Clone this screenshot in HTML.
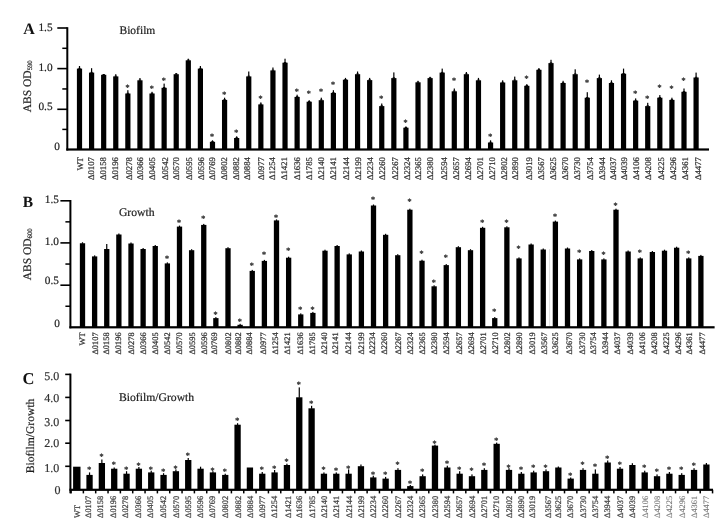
<!DOCTYPE html>
<html><head><meta charset="utf-8"><title>Biofilm and growth of deletion mutants</title>
<style>
html,body{margin:0;padding:0;background:#fff;}
body{width:726px;height:523px;overflow:hidden;}
svg{display:block;text-rendering:geometricPrecision;font-family:'Liberation Serif','DejaVu Serif',serif;}
</style></head><body>
<svg width="726" height="523" viewBox="0 0 726 523" fill="#000" style="font-family:'Liberation Serif','DejaVu Serif',serif">
<rect x="0" y="0" width="726" height="523" fill="#fff"/>
<rect x="66.3" y="27.2" width="2" height="123.3"/>
<rect x="57.3" y="27.2" width="10" height="1.6"/>
<rect x="62.3" y="47.55" width="5" height="1.5"/>
<rect x="57.3" y="67.8" width="10" height="1.6"/>
<rect x="62.3" y="88.2" width="5" height="1.5"/>
<rect x="57.3" y="108.5" width="10" height="1.6"/>
<rect x="62.3" y="128.65" width="5" height="1.5"/>
<text x="52.6" y="31.1" font-size="11.3" text-anchor="end" fill="#222" stroke="#222" stroke-width="0.2">1.5</text>
<text x="52.6" y="71" font-size="11.3" text-anchor="end" fill="#222" stroke="#222" stroke-width="0.2">1.0</text>
<text x="52.6" y="110.3" font-size="11.3" text-anchor="end" fill="#222" stroke="#222" stroke-width="0.2">0.5</text>
<text x="60" y="149.6" font-size="11.3" text-anchor="end" fill="#222" stroke="#222" stroke-width="0.2">0</text>
<rect x="66.3" y="148.4" width="642.7" height="2.2"/>
<rect x="76.9" y="68.6" width="5.2" height="80.9"/>
<rect x="78.9" y="66" width="1.2" height="3.1"/>
<rect x="78.3" y="67.9" width="2.4" height="0.9"/>
<text transform="translate(83.2,157.1) rotate(-90)" font-size="8.7" text-anchor="end" fill="#333" stroke="#333" stroke-width="0.25">WT</text>
<rect x="88.99" y="72.6" width="5.2" height="76.9"/>
<rect x="90.99" y="68.2" width="1.2" height="4.9"/>
<rect x="90.39" y="71.9" width="2.4" height="0.9"/>
<text transform="translate(94.09,157.1) rotate(-90)" font-size="8.7" text-anchor="end" fill="#333" stroke="#333" stroke-width="0.25">Δ0107</text>
<rect x="101.08" y="74.8" width="5.2" height="74.7"/>
<rect x="103.08" y="74" width="1.2" height="1.3"/>
<rect x="102.48" y="74.1" width="2.4" height="0.9"/>
<text transform="translate(106.18,157.1) rotate(-90)" font-size="8.7" text-anchor="end" fill="#333" stroke="#333" stroke-width="0.25">Δ0158</text>
<rect x="113.17" y="76.4" width="5.2" height="73.1"/>
<rect x="115.17" y="74.2" width="1.2" height="2.7"/>
<rect x="114.57" y="75.7" width="2.4" height="0.9"/>
<text transform="translate(118.07,157.1) rotate(-90)" font-size="8.7" text-anchor="end" fill="#333" stroke="#333" stroke-width="0.25">Δ0196</text>
<rect x="125.26" y="93.5" width="5.2" height="56"/>
<rect x="127.26" y="90.2" width="1.2" height="3.8"/>
<rect x="126.66" y="92.8" width="2.4" height="0.9"/>
<text x="127.46" y="90.05" font-size="8" text-anchor="middle" fill="#444" stroke="#444" stroke-width="0.45">*</text>
<text transform="translate(131.56,157.1) rotate(-90)" font-size="8.7" text-anchor="end" fill="#333" stroke="#333" stroke-width="0.25">Δ0278</text>
<rect x="137.35" y="80.3" width="5.2" height="69.2"/>
<rect x="139.35" y="78" width="1.2" height="2.8"/>
<rect x="138.75" y="79.6" width="2.4" height="0.9"/>
<text transform="translate(143.15,157.1) rotate(-90)" font-size="8.7" text-anchor="end" fill="#333" stroke="#333" stroke-width="0.25">Δ0366</text>
<rect x="149.44" y="93.5" width="5.2" height="56"/>
<rect x="151.44" y="91.8" width="1.2" height="2.2"/>
<rect x="150.84" y="92.8" width="2.4" height="0.9"/>
<text x="151.64" y="90.75" font-size="8" text-anchor="middle" fill="#444" stroke="#444" stroke-width="0.45">*</text>
<text transform="translate(154.54,157.1) rotate(-90)" font-size="8.7" text-anchor="end" fill="#333" stroke="#333" stroke-width="0.25">Δ0405</text>
<rect x="161.53" y="87.8" width="5.2" height="61.7"/>
<rect x="163.53" y="83.6" width="1.2" height="4.7"/>
<rect x="162.93" y="87.1" width="2.4" height="0.9"/>
<text x="163.73" y="83.45" font-size="8" text-anchor="middle" fill="#444" stroke="#444" stroke-width="0.45">*</text>
<text transform="translate(168.23,157.1) rotate(-90)" font-size="8.7" text-anchor="end" fill="#333" stroke="#333" stroke-width="0.25">Δ0542</text>
<rect x="173.62" y="74.2" width="5.2" height="75.3"/>
<rect x="175.62" y="73" width="1.2" height="1.7"/>
<rect x="175.02" y="73.5" width="2.4" height="0.9"/>
<text transform="translate(179.42,157.1) rotate(-90)" font-size="8.7" text-anchor="end" fill="#333" stroke="#333" stroke-width="0.25">Δ0570</text>
<rect x="185.71" y="60.3" width="5.2" height="89.2"/>
<rect x="187.71" y="58.7" width="1.2" height="2.1"/>
<rect x="187.11" y="59.6" width="2.4" height="0.9"/>
<text transform="translate(192.21,157.1) rotate(-90)" font-size="8.7" text-anchor="end" fill="#333" stroke="#333" stroke-width="0.25">Δ0595</text>
<rect x="197.8" y="68.6" width="5.2" height="80.9"/>
<rect x="199.8" y="66" width="1.2" height="3.1"/>
<rect x="199.2" y="67.9" width="2.4" height="0.9"/>
<text transform="translate(203.6,157.1) rotate(-90)" font-size="8.7" text-anchor="end" fill="#333" stroke="#333" stroke-width="0.25">Δ0596</text>
<rect x="209.89" y="141.8" width="5.2" height="7.7"/>
<rect x="211.89" y="140.3" width="1.2" height="2"/>
<rect x="211.29" y="141.1" width="2.4" height="0.9"/>
<text x="212.09" y="138.95" font-size="8" text-anchor="middle" fill="#444" stroke="#444" stroke-width="0.45">*</text>
<text transform="translate(215.19,157.1) rotate(-90)" font-size="8.7" text-anchor="end" fill="#333" stroke="#333" stroke-width="0.25">Δ0769</text>
<rect x="221.98" y="99.9" width="5.2" height="49.6"/>
<rect x="223.98" y="97.7" width="1.2" height="2.7"/>
<rect x="223.38" y="99.2" width="2.4" height="0.9"/>
<text x="224.18" y="96.65" font-size="8" text-anchor="middle" fill="#444" stroke="#444" stroke-width="0.45">*</text>
<text transform="translate(226.68,157.1) rotate(-90)" font-size="8.7" text-anchor="end" fill="#333" stroke="#333" stroke-width="0.25">Δ0802</text>
<rect x="234.07" y="138" width="5.2" height="11.5"/>
<rect x="236.07" y="136.3" width="1.2" height="2.2"/>
<rect x="235.47" y="137.3" width="2.4" height="0.9"/>
<text x="236.27" y="135.25" font-size="8" text-anchor="middle" fill="#444" stroke="#444" stroke-width="0.45">*</text>
<text transform="translate(238.77,157.1) rotate(-90)" font-size="8.7" text-anchor="end" fill="#333" stroke="#333" stroke-width="0.25">Δ0882</text>
<rect x="246.16" y="76.4" width="5.2" height="73.1"/>
<rect x="248.16" y="71.5" width="1.2" height="5.4"/>
<rect x="247.56" y="75.7" width="2.4" height="0.9"/>
<text transform="translate(250.16,157.1) rotate(-90)" font-size="8.7" text-anchor="end" fill="#333" stroke="#333" stroke-width="0.25">Δ0884</text>
<rect x="258.25" y="104.4" width="5.2" height="45.1"/>
<rect x="260.25" y="102.4" width="1.2" height="2.5"/>
<rect x="259.65" y="103.7" width="2.4" height="0.9"/>
<text x="260.45" y="101.05" font-size="8" text-anchor="middle" fill="#444" stroke="#444" stroke-width="0.45">*</text>
<text transform="translate(264.05,157.1) rotate(-90)" font-size="8.7" text-anchor="end" fill="#333" stroke="#333" stroke-width="0.25">Δ0977</text>
<rect x="270.34" y="70.4" width="5.2" height="79.1"/>
<rect x="272.34" y="67.5" width="1.2" height="3.4"/>
<rect x="271.74" y="69.7" width="2.4" height="0.9"/>
<text transform="translate(275.04,157.1) rotate(-90)" font-size="8.7" text-anchor="end" fill="#333" stroke="#333" stroke-width="0.25">Δ1254</text>
<rect x="282.43" y="62.7" width="5.2" height="86.8"/>
<rect x="284.43" y="58.7" width="1.2" height="4.5"/>
<rect x="283.83" y="62" width="2.4" height="0.9"/>
<text transform="translate(287.33,157.1) rotate(-90)" font-size="8.7" text-anchor="end" fill="#333" stroke="#333" stroke-width="0.25">Δ1421</text>
<rect x="294.52" y="96.9" width="5.2" height="52.6"/>
<rect x="296.52" y="94.7" width="1.2" height="2.7"/>
<rect x="295.92" y="96.2" width="2.4" height="0.9"/>
<text x="296.72" y="94.45" font-size="8" text-anchor="middle" fill="#444" stroke="#444" stroke-width="0.45">*</text>
<text transform="translate(299.62,157.1) rotate(-90)" font-size="8.7" text-anchor="end" fill="#333" stroke="#333" stroke-width="0.25">Δ1636</text>
<rect x="306.61" y="101.7" width="5.2" height="47.8"/>
<rect x="308.61" y="100.2" width="1.2" height="2"/>
<rect x="308.01" y="101" width="2.4" height="0.9"/>
<text x="308.81" y="96.25" font-size="8" text-anchor="middle" fill="#444" stroke="#444" stroke-width="0.45">*</text>
<text transform="translate(311.71,157.1) rotate(-90)" font-size="8.7" text-anchor="end" fill="#333" stroke="#333" stroke-width="0.25">Δ1785</text>
<rect x="318.7" y="100.2" width="5.2" height="49.3"/>
<rect x="320.7" y="97.7" width="1.2" height="3"/>
<rect x="320.1" y="99.5" width="2.4" height="0.9"/>
<text x="320.9" y="94.45" font-size="8" text-anchor="middle" fill="#444" stroke="#444" stroke-width="0.45">*</text>
<text transform="translate(324,157.1) rotate(-90)" font-size="8.7" text-anchor="end" fill="#333" stroke="#333" stroke-width="0.25">Δ2140</text>
<rect x="330.79" y="92.9" width="5.2" height="56.6"/>
<rect x="332.79" y="90.2" width="1.2" height="3.2"/>
<rect x="332.19" y="92.2" width="2.4" height="0.9"/>
<text x="332.99" y="87.35" font-size="8" text-anchor="middle" fill="#444" stroke="#444" stroke-width="0.45">*</text>
<text transform="translate(335.89,157.1) rotate(-90)" font-size="8.7" text-anchor="end" fill="#333" stroke="#333" stroke-width="0.25">Δ2141</text>
<rect x="342.88" y="79.7" width="5.2" height="69.8"/>
<rect x="344.88" y="77.9" width="1.2" height="2.3"/>
<rect x="344.28" y="79" width="2.4" height="0.9"/>
<text transform="translate(348.68,157.1) rotate(-90)" font-size="8.7" text-anchor="end" fill="#333" stroke="#333" stroke-width="0.25">Δ2144</text>
<rect x="354.97" y="74.2" width="5.2" height="75.3"/>
<rect x="356.97" y="71.5" width="1.2" height="3.2"/>
<rect x="356.37" y="73.5" width="2.4" height="0.9"/>
<text transform="translate(361.27,157.1) rotate(-90)" font-size="8.7" text-anchor="end" fill="#333" stroke="#333" stroke-width="0.25">Δ2199</text>
<rect x="367.06" y="80.1" width="5.2" height="69.4"/>
<rect x="369.06" y="77.9" width="1.2" height="2.7"/>
<rect x="368.46" y="79.4" width="2.4" height="0.9"/>
<text transform="translate(373.06,157.1) rotate(-90)" font-size="8.7" text-anchor="end" fill="#333" stroke="#333" stroke-width="0.25">Δ2234</text>
<rect x="379.15" y="106.1" width="5.2" height="43.4"/>
<rect x="381.15" y="103.5" width="1.2" height="3.1"/>
<rect x="380.55" y="105.4" width="2.4" height="0.9"/>
<text x="381.35" y="101.05" font-size="8" text-anchor="middle" fill="#444" stroke="#444" stroke-width="0.45">*</text>
<text transform="translate(384.95,157.1) rotate(-90)" font-size="8.7" text-anchor="end" fill="#333" stroke="#333" stroke-width="0.25">Δ2260</text>
<rect x="391.24" y="78.1" width="5.2" height="71.4"/>
<rect x="393.24" y="72.4" width="1.2" height="6.2"/>
<rect x="392.64" y="77.4" width="2.4" height="0.9"/>
<text transform="translate(398.14,157.1) rotate(-90)" font-size="8.7" text-anchor="end" fill="#333" stroke="#333" stroke-width="0.25">Δ2267</text>
<rect x="403.33" y="127.7" width="5.2" height="21.8"/>
<rect x="405.33" y="126.4" width="1.2" height="1.8"/>
<rect x="404.73" y="127" width="2.4" height="0.9"/>
<text x="405.53" y="124.85" font-size="8" text-anchor="middle" fill="#444" stroke="#444" stroke-width="0.45">*</text>
<text transform="translate(409.83,157.1) rotate(-90)" font-size="8.7" text-anchor="end" fill="#333" stroke="#333" stroke-width="0.25">Δ2324</text>
<rect x="415.42" y="82.3" width="5.2" height="67.2"/>
<rect x="417.42" y="80.8" width="1.2" height="2"/>
<rect x="416.82" y="81.6" width="2.4" height="0.9"/>
<text transform="translate(421.22,157.1) rotate(-90)" font-size="8.7" text-anchor="end" fill="#333" stroke="#333" stroke-width="0.25">Δ2365</text>
<rect x="427.51" y="78.1" width="5.2" height="71.4"/>
<rect x="429.51" y="76.8" width="1.2" height="1.8"/>
<rect x="428.91" y="77.4" width="2.4" height="0.9"/>
<text transform="translate(432.81,157.1) rotate(-90)" font-size="8.7" text-anchor="end" fill="#333" stroke="#333" stroke-width="0.25">Δ2380</text>
<rect x="439.6" y="72.6" width="5.2" height="76.9"/>
<rect x="441.6" y="68.6" width="1.2" height="4.5"/>
<rect x="441" y="71.9" width="2.4" height="0.9"/>
<text transform="translate(446.5,157.1) rotate(-90)" font-size="8.7" text-anchor="end" fill="#333" stroke="#333" stroke-width="0.25">Δ2594</text>
<rect x="451.69" y="91.3" width="5.2" height="58.2"/>
<rect x="453.69" y="88.5" width="1.2" height="3.3"/>
<rect x="453.09" y="90.6" width="2.4" height="0.9"/>
<text x="453.89" y="83.45" font-size="8" text-anchor="middle" fill="#444" stroke="#444" stroke-width="0.45">*</text>
<text transform="translate(458.59,157.1) rotate(-90)" font-size="8.7" text-anchor="end" fill="#333" stroke="#333" stroke-width="0.25">Δ2657</text>
<rect x="463.78" y="74.2" width="5.2" height="75.3"/>
<rect x="465.78" y="72" width="1.2" height="2.7"/>
<rect x="465.18" y="73.5" width="2.4" height="0.9"/>
<text transform="translate(470.68,157.1) rotate(-90)" font-size="8.7" text-anchor="end" fill="#333" stroke="#333" stroke-width="0.25">Δ2694</text>
<rect x="475.87" y="80.3" width="5.2" height="69.2"/>
<rect x="477.87" y="77.9" width="1.2" height="2.9"/>
<rect x="477.27" y="79.6" width="2.4" height="0.9"/>
<text transform="translate(482.77,157.1) rotate(-90)" font-size="8.7" text-anchor="end" fill="#333" stroke="#333" stroke-width="0.25">Δ2701</text>
<rect x="487.96" y="142.5" width="5.2" height="7"/>
<rect x="489.96" y="140.3" width="1.2" height="2.7"/>
<rect x="489.36" y="141.8" width="2.4" height="0.9"/>
<text x="490.16" y="138.55" font-size="8" text-anchor="middle" fill="#444" stroke="#444" stroke-width="0.45">*</text>
<text transform="translate(494.86,157.1) rotate(-90)" font-size="8.7" text-anchor="end" fill="#333" stroke="#333" stroke-width="0.25">Δ2710</text>
<rect x="500.05" y="82.5" width="5.2" height="67"/>
<rect x="502.05" y="80.3" width="1.2" height="2.7"/>
<rect x="501.45" y="81.8" width="2.4" height="0.9"/>
<text transform="translate(506.55,157.1) rotate(-90)" font-size="8.7" text-anchor="end" fill="#333" stroke="#333" stroke-width="0.25">Δ2802</text>
<rect x="512.14" y="80.3" width="5.2" height="69.2"/>
<rect x="514.14" y="76.6" width="1.2" height="4.2"/>
<rect x="513.54" y="79.6" width="2.4" height="0.9"/>
<text transform="translate(517.94,157.1) rotate(-90)" font-size="8.7" text-anchor="end" fill="#333" stroke="#333" stroke-width="0.25">Δ2890</text>
<rect x="524.23" y="85.8" width="5.2" height="63.7"/>
<rect x="526.23" y="84.1" width="1.2" height="2.2"/>
<rect x="525.63" y="85.1" width="2.4" height="0.9"/>
<text x="526.43" y="81.25" font-size="8" text-anchor="middle" fill="#444" stroke="#444" stroke-width="0.45">*</text>
<text transform="translate(531.63,157.1) rotate(-90)" font-size="8.7" text-anchor="end" fill="#333" stroke="#333" stroke-width="0.25">Δ3019</text>
<rect x="536.32" y="69.8" width="5.2" height="79.7"/>
<rect x="538.32" y="68" width="1.2" height="2.3"/>
<rect x="537.72" y="69.1" width="2.4" height="0.9"/>
<text transform="translate(543.72,157.1) rotate(-90)" font-size="8.7" text-anchor="end" fill="#333" stroke="#333" stroke-width="0.25">Δ3567</text>
<rect x="548.41" y="63.1" width="5.2" height="86.4"/>
<rect x="550.41" y="59.8" width="1.2" height="3.8"/>
<rect x="549.81" y="62.4" width="2.4" height="0.9"/>
<text transform="translate(555.61,157.1) rotate(-90)" font-size="8.7" text-anchor="end" fill="#333" stroke="#333" stroke-width="0.25">Δ3625</text>
<rect x="560.5" y="83" width="5.2" height="66.5"/>
<rect x="562.5" y="80.8" width="1.2" height="2.7"/>
<rect x="561.9" y="82.3" width="2.4" height="0.9"/>
<text transform="translate(567.9,157.1) rotate(-90)" font-size="8.7" text-anchor="end" fill="#333" stroke="#333" stroke-width="0.25">Δ3670</text>
<rect x="572.59" y="74.2" width="5.2" height="75.3"/>
<rect x="574.59" y="69.3" width="1.2" height="5.4"/>
<rect x="573.99" y="73.5" width="2.4" height="0.9"/>
<text transform="translate(580.49,157.1) rotate(-90)" font-size="8.7" text-anchor="end" fill="#333" stroke="#333" stroke-width="0.25">Δ3730</text>
<rect x="584.68" y="97.7" width="5.2" height="51.8"/>
<rect x="586.68" y="92.2" width="1.2" height="6"/>
<rect x="586.08" y="97" width="2.4" height="0.9"/>
<text x="586.88" y="84.95" font-size="8" text-anchor="middle" fill="#444" stroke="#444" stroke-width="0.45">*</text>
<text transform="translate(592.78,157.1) rotate(-90)" font-size="8.7" text-anchor="end" fill="#333" stroke="#333" stroke-width="0.25">Δ3754</text>
<rect x="596.77" y="78.1" width="5.2" height="71.4"/>
<rect x="598.77" y="74.6" width="1.2" height="4"/>
<rect x="598.17" y="77.4" width="2.4" height="0.9"/>
<text transform="translate(604.87,157.1) rotate(-90)" font-size="8.7" text-anchor="end" fill="#333" stroke="#333" stroke-width="0.25">Δ3944</text>
<rect x="608.86" y="83" width="5.2" height="66.5"/>
<rect x="610.86" y="80.3" width="1.2" height="3.2"/>
<rect x="610.26" y="82.3" width="2.4" height="0.9"/>
<text transform="translate(615.76,157.1) rotate(-90)" font-size="8.7" text-anchor="end" fill="#333" stroke="#333" stroke-width="0.25">Δ4037</text>
<rect x="620.95" y="73.7" width="5.2" height="75.8"/>
<rect x="622.95" y="68.6" width="1.2" height="5.6"/>
<rect x="622.35" y="73" width="2.4" height="0.9"/>
<text transform="translate(626.75,157.1) rotate(-90)" font-size="8.7" text-anchor="end" fill="#333" stroke="#333" stroke-width="0.25">Δ4039</text>
<rect x="633.04" y="100.6" width="5.2" height="48.9"/>
<rect x="635.04" y="98.4" width="1.2" height="2.7"/>
<rect x="634.44" y="99.9" width="2.4" height="0.9"/>
<text x="635.24" y="96.25" font-size="8" text-anchor="middle" fill="#444" stroke="#444" stroke-width="0.45">*</text>
<text transform="translate(639.34,157.1) rotate(-90)" font-size="8.7" text-anchor="end" fill="#333" stroke="#333" stroke-width="0.25">Δ4106</text>
<rect x="645.13" y="106.1" width="5.2" height="43.4"/>
<rect x="647.13" y="102.8" width="1.2" height="3.8"/>
<rect x="646.53" y="105.4" width="2.4" height="0.9"/>
<text x="647.33" y="100.65" font-size="8" text-anchor="middle" fill="#444" stroke="#444" stroke-width="0.45">*</text>
<text transform="translate(651.13,157.1) rotate(-90)" font-size="8.7" text-anchor="end" fill="#333" stroke="#333" stroke-width="0.25">Δ4208</text>
<rect x="657.22" y="97.7" width="5.2" height="51.8"/>
<rect x="659.22" y="95.1" width="1.2" height="3.1"/>
<rect x="658.62" y="97" width="2.4" height="0.9"/>
<text x="659.42" y="90.05" font-size="8" text-anchor="middle" fill="#444" stroke="#444" stroke-width="0.45">*</text>
<text transform="translate(664.12,157.1) rotate(-90)" font-size="8.7" text-anchor="end" fill="#333" stroke="#333" stroke-width="0.25">Δ4225</text>
<rect x="669.31" y="99.9" width="5.2" height="49.6"/>
<rect x="671.31" y="97.7" width="1.2" height="2.7"/>
<rect x="670.71" y="99.2" width="2.4" height="0.9"/>
<text x="671.51" y="90.65" font-size="8" text-anchor="middle" fill="#444" stroke="#444" stroke-width="0.45">*</text>
<text transform="translate(675.81,157.1) rotate(-90)" font-size="8.7" text-anchor="end" fill="#333" stroke="#333" stroke-width="0.25">Δ4296</text>
<rect x="681.4" y="91.8" width="5.2" height="57.7"/>
<rect x="683.4" y="88.5" width="1.2" height="3.8"/>
<rect x="682.8" y="91.1" width="2.4" height="0.9"/>
<text x="683.6" y="82.95" font-size="8" text-anchor="middle" fill="#444" stroke="#444" stroke-width="0.45">*</text>
<text transform="translate(687.9,157.1) rotate(-90)" font-size="8.7" text-anchor="end" fill="#333" stroke="#333" stroke-width="0.25">Δ4361</text>
<rect x="693.49" y="77.5" width="5.2" height="72"/>
<rect x="695.49" y="72.6" width="1.2" height="5.4"/>
<rect x="694.89" y="76.8" width="2.4" height="0.9"/>
<text transform="translate(700.69,157.1) rotate(-90)" font-size="8.7" text-anchor="end" fill="#333" stroke="#333" stroke-width="0.25">Δ4477</text>
<rect x="69.4" y="200" width="2" height="128.3"/>
<rect x="60.4" y="200" width="10" height="1.6"/>
<rect x="65.4" y="221.1" width="5" height="1.5"/>
<rect x="60.4" y="242.1" width="10" height="1.6"/>
<rect x="65.4" y="263.3" width="5" height="1.5"/>
<rect x="60.4" y="284.4" width="10" height="1.6"/>
<rect x="65.4" y="305.5" width="5" height="1.5"/>
<text x="58.9" y="203.4" font-size="11.3" text-anchor="end" fill="#222" stroke="#222" stroke-width="0.2">1.5</text>
<text x="58.9" y="244.9" font-size="11.3" text-anchor="end" fill="#222" stroke="#222" stroke-width="0.2">1.0</text>
<text x="58.9" y="284.4" font-size="11.3" text-anchor="end" fill="#222" stroke="#222" stroke-width="0.2">0.5</text>
<text x="60" y="326.8" font-size="11.3" text-anchor="end" fill="#222" stroke="#222" stroke-width="0.2">0</text>
<rect x="69.4" y="326.2" width="645.2" height="2.2"/>
<rect x="79.85" y="243.25" width="5.3" height="84.05"/>
<rect x="81.9" y="242.25" width="1.2" height="1.5"/>
<text transform="translate(85.4,332.4) rotate(-90)" font-size="8.4" text-anchor="end" fill="#333" stroke="#333" stroke-width="0.25">WT</text>
<rect x="91.97" y="256.4" width="5.3" height="70.9"/>
<rect x="94.03" y="255.4" width="1.2" height="1.5"/>
<text transform="translate(98.03,332.4) rotate(-90)" font-size="8.4" text-anchor="end" fill="#333" stroke="#333" stroke-width="0.25">Δ0107</text>
<rect x="104.1" y="249" width="5.3" height="78.3"/>
<rect x="106.15" y="244" width="1.2" height="5.5"/>
<text transform="translate(109.45,332.4) rotate(-90)" font-size="8.4" text-anchor="end" fill="#333" stroke="#333" stroke-width="0.25">Δ0158</text>
<rect x="116.22" y="234.5" width="5.3" height="92.8"/>
<rect x="118.28" y="233.5" width="1.2" height="1.5"/>
<text transform="translate(121.28,332.4) rotate(-90)" font-size="8.4" text-anchor="end" fill="#333" stroke="#333" stroke-width="0.25">Δ0196</text>
<rect x="128.35" y="243.5" width="5.3" height="83.8"/>
<rect x="130.4" y="242.5" width="1.2" height="1.5"/>
<text transform="translate(133.9,332.4) rotate(-90)" font-size="8.4" text-anchor="end" fill="#333" stroke="#333" stroke-width="0.25">Δ0278</text>
<rect x="140.47" y="249" width="5.3" height="78.3"/>
<rect x="142.53" y="248" width="1.2" height="1.5"/>
<text transform="translate(146.03,332.4) rotate(-90)" font-size="8.4" text-anchor="end" fill="#333" stroke="#333" stroke-width="0.25">Δ0366</text>
<rect x="152.6" y="246" width="5.3" height="81.3"/>
<rect x="154.65" y="245" width="1.2" height="1.5"/>
<text transform="translate(157.65,332.4) rotate(-90)" font-size="8.4" text-anchor="end" fill="#333" stroke="#333" stroke-width="0.25">Δ0405</text>
<rect x="164.72" y="263.4" width="5.3" height="63.9"/>
<rect x="166.78" y="262.4" width="1.2" height="1.5"/>
<text x="166.97" y="260.75" font-size="8" text-anchor="middle" fill="#444" stroke="#444" stroke-width="0.45">*</text>
<text transform="translate(170.28,332.4) rotate(-90)" font-size="8.4" text-anchor="end" fill="#333" stroke="#333" stroke-width="0.25">Δ0542</text>
<rect x="176.85" y="226.6" width="5.3" height="100.7"/>
<rect x="178.9" y="225.6" width="1.2" height="1.5"/>
<text x="179.1" y="224.75" font-size="8" text-anchor="middle" fill="#444" stroke="#444" stroke-width="0.45">*</text>
<text transform="translate(182.4,332.4) rotate(-90)" font-size="8.4" text-anchor="end" fill="#333" stroke="#333" stroke-width="0.25">Δ0570</text>
<rect x="188.97" y="250.2" width="5.3" height="77.1"/>
<rect x="191.03" y="249.2" width="1.2" height="1.5"/>
<text transform="translate(195.22,332.4) rotate(-90)" font-size="8.4" text-anchor="end" fill="#333" stroke="#333" stroke-width="0.25">Δ0595</text>
<rect x="201.1" y="224.9" width="5.3" height="102.4"/>
<rect x="203.15" y="223.9" width="1.2" height="1.5"/>
<text x="203.35" y="221.15" font-size="8" text-anchor="middle" fill="#444" stroke="#444" stroke-width="0.45">*</text>
<text transform="translate(207.15,332.4) rotate(-90)" font-size="8.4" text-anchor="end" fill="#333" stroke="#333" stroke-width="0.25">Δ0596</text>
<rect x="213.22" y="318.1" width="5.3" height="9.2"/>
<rect x="215.28" y="317.1" width="1.2" height="1.5"/>
<text x="215.47" y="316.65" font-size="8" text-anchor="middle" fill="#444" stroke="#444" stroke-width="0.45">*</text>
<text transform="translate(217.18,332.4) rotate(-90)" font-size="8.4" text-anchor="end" fill="#333" stroke="#333" stroke-width="0.25">Δ0769</text>
<rect x="225.35" y="248.2" width="5.3" height="79.1"/>
<rect x="227.4" y="247.2" width="1.2" height="1.5"/>
<text transform="translate(230.9,332.4) rotate(-90)" font-size="8.4" text-anchor="end" fill="#333" stroke="#333" stroke-width="0.25">Δ0802</text>
<rect x="237.47" y="324.8" width="5.3" height="2.5"/>
<rect x="239.53" y="323.8" width="1.2" height="1.5"/>
<text x="239.72" y="324.05" font-size="8" text-anchor="middle" fill="#444" stroke="#444" stroke-width="0.45">*</text>
<text transform="translate(241.43,332.4) rotate(-90)" font-size="8.4" text-anchor="end" fill="#333" stroke="#333" stroke-width="0.25">Δ0882</text>
<rect x="249.6" y="270.9" width="5.3" height="56.4"/>
<rect x="251.65" y="269.9" width="1.2" height="1.5"/>
<text x="251.85" y="267.65" font-size="8" text-anchor="middle" fill="#444" stroke="#444" stroke-width="0.45">*</text>
<text transform="translate(252.15,332.4) rotate(-90)" font-size="8.4" text-anchor="end" fill="#333" stroke="#333" stroke-width="0.25">Δ0884</text>
<rect x="261.73" y="260.9" width="5.3" height="66.4"/>
<rect x="263.77" y="259.9" width="1.2" height="1.5"/>
<text x="263.98" y="256.95" font-size="8" text-anchor="middle" fill="#444" stroke="#444" stroke-width="0.45">*</text>
<text transform="translate(266.17,332.4) rotate(-90)" font-size="8.4" text-anchor="end" fill="#333" stroke="#333" stroke-width="0.25">Δ0977</text>
<rect x="273.85" y="220.4" width="5.3" height="106.9"/>
<rect x="275.9" y="219.4" width="1.2" height="1.5"/>
<text x="276.1" y="219.65" font-size="8" text-anchor="middle" fill="#444" stroke="#444" stroke-width="0.45">*</text>
<text transform="translate(278.3,332.4) rotate(-90)" font-size="8.4" text-anchor="end" fill="#333" stroke="#333" stroke-width="0.25">Δ1254</text>
<rect x="285.98" y="257.7" width="5.3" height="69.6"/>
<rect x="288.02" y="256.7" width="1.2" height="1.5"/>
<text x="288.23" y="253.45" font-size="8" text-anchor="middle" fill="#444" stroke="#444" stroke-width="0.45">*</text>
<text transform="translate(290.42,332.4) rotate(-90)" font-size="8.4" text-anchor="end" fill="#333" stroke="#333" stroke-width="0.25">Δ1421</text>
<rect x="298.1" y="314.4" width="5.3" height="12.9"/>
<rect x="300.15" y="313.4" width="1.2" height="1.5"/>
<text x="300.35" y="311.85" font-size="8" text-anchor="middle" fill="#444" stroke="#444" stroke-width="0.45">*</text>
<text transform="translate(302.55,332.4) rotate(-90)" font-size="8.4" text-anchor="end" fill="#333" stroke="#333" stroke-width="0.25">Δ1636</text>
<rect x="310.23" y="312.9" width="5.3" height="14.4"/>
<rect x="312.27" y="311.9" width="1.2" height="1.5"/>
<text x="312.48" y="311.85" font-size="8" text-anchor="middle" fill="#444" stroke="#444" stroke-width="0.45">*</text>
<text transform="translate(314.67,332.4) rotate(-90)" font-size="8.4" text-anchor="end" fill="#333" stroke="#333" stroke-width="0.25">Δ1785</text>
<rect x="322.35" y="250.7" width="5.3" height="76.6"/>
<rect x="324.4" y="249.7" width="1.2" height="1.5"/>
<text transform="translate(326.8,332.4) rotate(-90)" font-size="8.4" text-anchor="end" fill="#333" stroke="#333" stroke-width="0.25">Δ2140</text>
<rect x="334.48" y="246" width="5.3" height="81.3"/>
<rect x="336.52" y="245" width="1.2" height="1.5"/>
<text transform="translate(338.42,332.4) rotate(-90)" font-size="8.4" text-anchor="end" fill="#333" stroke="#333" stroke-width="0.25">Δ2141</text>
<rect x="346.6" y="254.4" width="5.3" height="72.9"/>
<rect x="348.65" y="253.4" width="1.2" height="1.5"/>
<text transform="translate(351.25,332.4) rotate(-90)" font-size="8.4" text-anchor="end" fill="#333" stroke="#333" stroke-width="0.25">Δ2144</text>
<rect x="358.73" y="251.5" width="5.3" height="75.8"/>
<rect x="360.77" y="250.5" width="1.2" height="1.5"/>
<text transform="translate(363.57,332.4) rotate(-90)" font-size="8.4" text-anchor="end" fill="#333" stroke="#333" stroke-width="0.25">Δ2199</text>
<rect x="370.85" y="205.5" width="5.3" height="121.8"/>
<rect x="372.9" y="204.5" width="1.2" height="1.5"/>
<text x="373.1" y="202.25" font-size="8" text-anchor="middle" fill="#444" stroke="#444" stroke-width="0.45">*</text>
<text transform="translate(374.6,332.4) rotate(-90)" font-size="8.4" text-anchor="end" fill="#333" stroke="#333" stroke-width="0.25">Δ2234</text>
<rect x="382.98" y="234.8" width="5.3" height="92.5"/>
<rect x="385.02" y="233.8" width="1.2" height="1.5"/>
<text transform="translate(387.42,332.4) rotate(-90)" font-size="8.4" text-anchor="end" fill="#333" stroke="#333" stroke-width="0.25">Δ2260</text>
<rect x="395.1" y="255.2" width="5.3" height="72.1"/>
<rect x="397.15" y="254.2" width="1.2" height="1.5"/>
<text transform="translate(401.15,332.4) rotate(-90)" font-size="8.4" text-anchor="end" fill="#333" stroke="#333" stroke-width="0.25">Δ2267</text>
<rect x="407.23" y="209.7" width="5.3" height="117.6"/>
<rect x="409.27" y="208.7" width="1.2" height="1.5"/>
<text x="409.48" y="204.25" font-size="8" text-anchor="middle" fill="#444" stroke="#444" stroke-width="0.45">*</text>
<text transform="translate(413.27,332.4) rotate(-90)" font-size="8.4" text-anchor="end" fill="#333" stroke="#333" stroke-width="0.25">Δ2324</text>
<rect x="419.35" y="260.7" width="5.3" height="66.6"/>
<rect x="421.4" y="259.7" width="1.2" height="1.5"/>
<text x="421.6" y="256.45" font-size="8" text-anchor="middle" fill="#444" stroke="#444" stroke-width="0.45">*</text>
<text transform="translate(424.9,332.4) rotate(-90)" font-size="8.4" text-anchor="end" fill="#333" stroke="#333" stroke-width="0.25">Δ2365</text>
<rect x="431.48" y="286.3" width="5.3" height="41"/>
<rect x="433.52" y="285.3" width="1.2" height="1.5"/>
<text x="433.73" y="284.55" font-size="8" text-anchor="middle" fill="#444" stroke="#444" stroke-width="0.45">*</text>
<text transform="translate(436.52,332.4) rotate(-90)" font-size="8.4" text-anchor="end" fill="#333" stroke="#333" stroke-width="0.25">Δ2380</text>
<rect x="443.6" y="265.1" width="5.3" height="62.2"/>
<rect x="445.65" y="264.1" width="1.2" height="1.5"/>
<text x="445.85" y="260.15" font-size="8" text-anchor="middle" fill="#444" stroke="#444" stroke-width="0.45">*</text>
<text transform="translate(448.95,332.4) rotate(-90)" font-size="8.4" text-anchor="end" fill="#333" stroke="#333" stroke-width="0.25">Δ2594</text>
<rect x="455.73" y="247.2" width="5.3" height="80.1"/>
<rect x="457.77" y="246.2" width="1.2" height="1.5"/>
<text transform="translate(461.77,332.4) rotate(-90)" font-size="8.4" text-anchor="end" fill="#333" stroke="#333" stroke-width="0.25">Δ2657</text>
<rect x="467.85" y="250.2" width="5.3" height="77.1"/>
<rect x="469.9" y="249.2" width="1.2" height="1.5"/>
<text transform="translate(473.9,332.4) rotate(-90)" font-size="8.4" text-anchor="end" fill="#333" stroke="#333" stroke-width="0.25">Δ2694</text>
<rect x="479.98" y="227.8" width="5.3" height="99.5"/>
<rect x="482.02" y="226.8" width="1.2" height="1.5"/>
<text x="482.23" y="224.65" font-size="8" text-anchor="middle" fill="#444" stroke="#444" stroke-width="0.45">*</text>
<text transform="translate(485.52,332.4) rotate(-90)" font-size="8.4" text-anchor="end" fill="#333" stroke="#333" stroke-width="0.25">Δ2701</text>
<rect x="492.1" y="318.1" width="5.3" height="9.2"/>
<rect x="494.15" y="317.1" width="1.2" height="1.5"/>
<text x="494.35" y="313.65" font-size="8" text-anchor="middle" fill="#444" stroke="#444" stroke-width="0.45">*</text>
<text transform="translate(497.65,332.4) rotate(-90)" font-size="8.4" text-anchor="end" fill="#333" stroke="#333" stroke-width="0.25">Δ2710</text>
<rect x="504.23" y="227.3" width="5.3" height="100"/>
<rect x="506.27" y="226.3" width="1.2" height="1.5"/>
<text x="506.48" y="224.65" font-size="8" text-anchor="middle" fill="#444" stroke="#444" stroke-width="0.45">*</text>
<text transform="translate(509.77,332.4) rotate(-90)" font-size="8.4" text-anchor="end" fill="#333" stroke="#333" stroke-width="0.25">Δ2802</text>
<rect x="516.35" y="258.4" width="5.3" height="68.9"/>
<rect x="518.4" y="257.4" width="1.2" height="1.5"/>
<text x="518.6" y="250.75" font-size="8" text-anchor="middle" fill="#444" stroke="#444" stroke-width="0.45">*</text>
<text transform="translate(521.9,332.4) rotate(-90)" font-size="8.4" text-anchor="end" fill="#333" stroke="#333" stroke-width="0.25">Δ2890</text>
<rect x="528.48" y="244.5" width="5.3" height="82.8"/>
<rect x="530.52" y="243.5" width="1.2" height="1.5"/>
<text transform="translate(534.92,332.4) rotate(-90)" font-size="8.4" text-anchor="end" fill="#333" stroke="#333" stroke-width="0.25">Δ3019</text>
<rect x="540.6" y="249.5" width="5.3" height="77.8"/>
<rect x="542.65" y="248.5" width="1.2" height="1.5"/>
<text transform="translate(546.85,332.4) rotate(-90)" font-size="8.4" text-anchor="end" fill="#333" stroke="#333" stroke-width="0.25">Δ3567</text>
<rect x="552.73" y="221.6" width="5.3" height="105.7"/>
<rect x="554.77" y="220.6" width="1.2" height="1.5"/>
<text x="554.98" y="218.65" font-size="8" text-anchor="middle" fill="#444" stroke="#444" stroke-width="0.45">*</text>
<text transform="translate(558.27,332.4) rotate(-90)" font-size="8.4" text-anchor="end" fill="#333" stroke="#333" stroke-width="0.25">Δ3625</text>
<rect x="564.85" y="248.5" width="5.3" height="78.8"/>
<rect x="566.9" y="247.5" width="1.2" height="1.5"/>
<text transform="translate(572.2,332.4) rotate(-90)" font-size="8.4" text-anchor="end" fill="#333" stroke="#333" stroke-width="0.25">Δ3670</text>
<rect x="576.98" y="259.4" width="5.3" height="67.9"/>
<rect x="579.02" y="258.4" width="1.2" height="1.5"/>
<text x="579.23" y="254.75" font-size="8" text-anchor="middle" fill="#444" stroke="#444" stroke-width="0.45">*</text>
<text transform="translate(584.52,332.4) rotate(-90)" font-size="8.4" text-anchor="end" fill="#333" stroke="#333" stroke-width="0.25">Δ3730</text>
<rect x="589.1" y="251" width="5.3" height="76.3"/>
<rect x="591.15" y="250" width="1.2" height="1.5"/>
<text transform="translate(595.85,332.4) rotate(-90)" font-size="8.4" text-anchor="end" fill="#333" stroke="#333" stroke-width="0.25">Δ3754</text>
<rect x="601.23" y="259.4" width="5.3" height="67.9"/>
<rect x="603.27" y="258.4" width="1.2" height="1.5"/>
<text x="603.48" y="256.95" font-size="8" text-anchor="middle" fill="#444" stroke="#444" stroke-width="0.45">*</text>
<text transform="translate(607.98,332.4) rotate(-90)" font-size="8.4" text-anchor="end" fill="#333" stroke="#333" stroke-width="0.25">Δ3944</text>
<rect x="613.35" y="209.7" width="5.3" height="117.6"/>
<rect x="615.4" y="208.7" width="1.2" height="1.5"/>
<text x="615.6" y="207.95" font-size="8" text-anchor="middle" fill="#444" stroke="#444" stroke-width="0.45">*</text>
<text transform="translate(620,332.4) rotate(-90)" font-size="8.4" text-anchor="end" fill="#333" stroke="#333" stroke-width="0.25">Δ4037</text>
<rect x="625.48" y="251.5" width="5.3" height="75.8"/>
<rect x="627.52" y="250.5" width="1.2" height="1.5"/>
<text transform="translate(632.82,332.4) rotate(-90)" font-size="8.4" text-anchor="end" fill="#333" stroke="#333" stroke-width="0.25">Δ4039</text>
<rect x="637.6" y="258.4" width="5.3" height="68.9"/>
<rect x="639.65" y="257.4" width="1.2" height="1.5"/>
<text x="639.85" y="254.75" font-size="8" text-anchor="middle" fill="#444" stroke="#444" stroke-width="0.45">*</text>
<text transform="translate(645.05,332.4) rotate(-90)" font-size="8.4" text-anchor="end" fill="#333" stroke="#333" stroke-width="0.25">Δ4106</text>
<rect x="649.73" y="252" width="5.3" height="75.3"/>
<rect x="651.77" y="251" width="1.2" height="1.5"/>
<text transform="translate(656.88,332.4) rotate(-90)" font-size="8.4" text-anchor="end" fill="#333" stroke="#333" stroke-width="0.25">Δ4208</text>
<rect x="661.85" y="250.7" width="5.3" height="76.6"/>
<rect x="663.9" y="249.7" width="1.2" height="1.5"/>
<text transform="translate(669.3,332.4) rotate(-90)" font-size="8.4" text-anchor="end" fill="#333" stroke="#333" stroke-width="0.25">Δ4225</text>
<rect x="673.98" y="247.7" width="5.3" height="79.6"/>
<rect x="676.02" y="246.7" width="1.2" height="1.5"/>
<text transform="translate(680.73,332.4) rotate(-90)" font-size="8.4" text-anchor="end" fill="#333" stroke="#333" stroke-width="0.25">Δ4296</text>
<rect x="686.1" y="258.4" width="5.3" height="68.9"/>
<rect x="688.15" y="257.4" width="1.2" height="1.5"/>
<text x="688.35" y="255.95" font-size="8" text-anchor="middle" fill="#444" stroke="#444" stroke-width="0.45">*</text>
<text transform="translate(691.65,332.4) rotate(-90)" font-size="8.4" text-anchor="end" fill="#333" stroke="#333" stroke-width="0.25">Δ4361</text>
<rect x="698.23" y="255.9" width="5.3" height="71.4"/>
<rect x="700.27" y="254.9" width="1.2" height="1.5"/>
<text transform="translate(704.88,332.4) rotate(-90)" font-size="8.4" text-anchor="end" fill="#333" stroke="#333" stroke-width="0.25">Δ4477</text>
<rect x="549.3" y="249" width="0.8" height="77" fill="#d4d4d4"/>
<rect x="69.4" y="373.6" width="2" height="119.7"/>
<rect x="65.2" y="373.6" width="5.2" height="1.6"/>
<rect x="65.2" y="396.6" width="5.2" height="1.6"/>
<rect x="65.2" y="419.7" width="5.2" height="1.6"/>
<rect x="65.2" y="442.4" width="5.2" height="1.6"/>
<rect x="65.2" y="465.5" width="5.2" height="1.6"/>
<text x="59.3" y="379.6" font-size="12" text-anchor="end" fill="#333" stroke="#333" stroke-width="0.2">5.0</text>
<text x="59.3" y="402.4" font-size="12" text-anchor="end" fill="#333" stroke="#333" stroke-width="0.2">4.0</text>
<text x="59.3" y="425.8" font-size="12" text-anchor="end" fill="#333" stroke="#333" stroke-width="0.2">3.0</text>
<text x="59.3" y="447.4" font-size="12" text-anchor="end" fill="#333" stroke="#333" stroke-width="0.2">2.0</text>
<text x="59.3" y="472.4" font-size="12" text-anchor="end" fill="#333" stroke="#333" stroke-width="0.2">1.0</text>
<text x="60.4" y="493.5" font-size="12" text-anchor="end" fill="#333" stroke="#333" stroke-width="0.2">0</text>
<rect x="69.4" y="488.7" width="643.6" height="2.2"/>
<rect x="73.1" y="466.7" width="7.4" height="23.1"/>
<rect x="70.28" y="489.8" width="1.5" height="3.6"/>
<text transform="translate(79.5,518) rotate(-90)" font-size="8.4" text-anchor="start" fill="#444" stroke="#444" stroke-width="0.25">WT</text>
<rect x="86.39" y="474.9" width="6.3" height="14.9"/>
<rect x="88.94" y="472.4" width="1.2" height="3"/>
<text x="89.14" y="472.45" font-size="8" text-anchor="middle" fill="#444" stroke="#444" stroke-width="0.45">*</text>
<rect x="82.62" y="489.8" width="1.5" height="3.6"/>
<text transform="translate(91.24,518) rotate(-90)" font-size="8.4" text-anchor="start" fill="#444" stroke="#444" stroke-width="0.25">Δ0107</text>
<rect x="98.72" y="463" width="6.3" height="26.8"/>
<rect x="101.27" y="459.5" width="1.2" height="4"/>
<text x="101.47" y="459.25" font-size="8" text-anchor="middle" fill="#444" stroke="#444" stroke-width="0.45">*</text>
<rect x="94.95" y="489.8" width="1.5" height="3.6"/>
<text transform="translate(103.07,518) rotate(-90)" font-size="8.4" text-anchor="start" fill="#444" stroke="#444" stroke-width="0.25">Δ0158</text>
<rect x="111.06" y="468.7" width="6.3" height="21.1"/>
<rect x="113.61" y="467.5" width="1.2" height="1.7"/>
<text x="113.81" y="466.95" font-size="8" text-anchor="middle" fill="#444" stroke="#444" stroke-width="0.45">*</text>
<rect x="107.29" y="489.8" width="1.5" height="3.6"/>
<text transform="translate(116.31,518) rotate(-90)" font-size="8.4" text-anchor="start" fill="#444" stroke="#444" stroke-width="0.25">Δ0196</text>
<rect x="123.4" y="473.7" width="6.3" height="16.1"/>
<rect x="125.95" y="471.2" width="1.2" height="3"/>
<text x="126.15" y="471.75" font-size="8" text-anchor="middle" fill="#444" stroke="#444" stroke-width="0.45">*</text>
<rect x="119.63" y="489.8" width="1.5" height="3.6"/>
<text transform="translate(127.75,518) rotate(-90)" font-size="8.4" text-anchor="start" fill="#444" stroke="#444" stroke-width="0.25">Δ0278</text>
<rect x="135.73" y="468.7" width="6.3" height="21.1"/>
<rect x="138.28" y="467" width="1.2" height="2.2"/>
<text x="138.48" y="467.95" font-size="8" text-anchor="middle" fill="#444" stroke="#444" stroke-width="0.45">*</text>
<rect x="131.97" y="489.8" width="1.5" height="3.6"/>
<text transform="translate(140.99,518) rotate(-90)" font-size="8.4" text-anchor="start" fill="#444" stroke="#444" stroke-width="0.25">Δ0366</text>
<rect x="148.07" y="472.4" width="6.3" height="17.4"/>
<rect x="150.62" y="470.7" width="1.2" height="2.2"/>
<text x="150.82" y="471.75" font-size="8" text-anchor="middle" fill="#444" stroke="#444" stroke-width="0.45">*</text>
<rect x="144.3" y="489.8" width="1.5" height="3.6"/>
<text transform="translate(153.32,518) rotate(-90)" font-size="8.4" text-anchor="start" fill="#444" stroke="#444" stroke-width="0.25">Δ0405</text>
<rect x="160.41" y="474.9" width="6.3" height="14.9"/>
<rect x="162.96" y="473.2" width="1.2" height="2.2"/>
<text x="163.16" y="473.65" font-size="8" text-anchor="middle" fill="#444" stroke="#444" stroke-width="0.45">*</text>
<rect x="156.64" y="489.8" width="1.5" height="3.6"/>
<text transform="translate(165.86,518) rotate(-90)" font-size="8.4" text-anchor="start" fill="#444" stroke="#444" stroke-width="0.25">Δ0542</text>
<rect x="172.75" y="471.2" width="6.3" height="18.6"/>
<rect x="175.3" y="469.4" width="1.2" height="2.3"/>
<text x="175.5" y="470.75" font-size="8" text-anchor="middle" fill="#444" stroke="#444" stroke-width="0.45">*</text>
<rect x="168.98" y="489.8" width="1.5" height="3.6"/>
<text transform="translate(178.7,518) rotate(-90)" font-size="8.4" text-anchor="start" fill="#444" stroke="#444" stroke-width="0.25">Δ0570</text>
<rect x="185.08" y="460" width="6.3" height="29.8"/>
<rect x="187.63" y="458" width="1.2" height="2.5"/>
<text x="187.83" y="458.25" font-size="8" text-anchor="middle" fill="#444" stroke="#444" stroke-width="0.45">*</text>
<rect x="181.31" y="489.8" width="1.5" height="3.6"/>
<text transform="translate(191.03,518) rotate(-90)" font-size="8.4" text-anchor="start" fill="#444" stroke="#444" stroke-width="0.25">Δ0595</text>
<rect x="197.42" y="468.7" width="6.3" height="21.1"/>
<rect x="199.97" y="466.7" width="1.2" height="2.5"/>
<rect x="193.65" y="489.8" width="1.5" height="3.6"/>
<text transform="translate(203.37,518) rotate(-90)" font-size="8.4" text-anchor="start" fill="#444" stroke="#444" stroke-width="0.25">Δ0596</text>
<rect x="209.76" y="472.4" width="6.3" height="17.4"/>
<rect x="212.31" y="471.2" width="1.2" height="1.7"/>
<text x="212.51" y="472.95" font-size="8" text-anchor="middle" fill="#444" stroke="#444" stroke-width="0.45">*</text>
<rect x="205.99" y="489.8" width="1.5" height="3.6"/>
<text transform="translate(214.81,518) rotate(-90)" font-size="8.4" text-anchor="start" fill="#444" stroke="#444" stroke-width="0.25">Δ0769</text>
<rect x="222.09" y="474.9" width="6.3" height="14.9"/>
<rect x="224.64" y="473.7" width="1.2" height="1.7"/>
<text x="224.84" y="473.65" font-size="8" text-anchor="middle" fill="#444" stroke="#444" stroke-width="0.45">*</text>
<rect x="218.32" y="489.8" width="1.5" height="3.6"/>
<text transform="translate(227.54,518) rotate(-90)" font-size="8.4" text-anchor="start" fill="#444" stroke="#444" stroke-width="0.25">Δ0802</text>
<rect x="234.43" y="424.7" width="6.3" height="65.1"/>
<rect x="236.98" y="423.2" width="1.2" height="2"/>
<text x="237.18" y="423.45" font-size="8" text-anchor="middle" fill="#444" stroke="#444" stroke-width="0.45">*</text>
<rect x="230.66" y="489.8" width="1.5" height="3.6"/>
<text transform="translate(240.78,518) rotate(-90)" font-size="8.4" text-anchor="start" fill="#444" stroke="#444" stroke-width="0.25">Δ0882</text>
<rect x="246.77" y="467.5" width="6.3" height="22.3"/>
<rect x="243" y="489.8" width="1.5" height="3.6"/>
<text transform="translate(253.12,518) rotate(-90)" font-size="8.4" text-anchor="start" fill="#444" stroke="#444" stroke-width="0.25">Δ0884</text>
<rect x="259.11" y="473.7" width="6.3" height="16.1"/>
<rect x="261.65" y="472" width="1.2" height="2.2"/>
<text x="261.86" y="471.95" font-size="8" text-anchor="middle" fill="#444" stroke="#444" stroke-width="0.45">*</text>
<rect x="255.33" y="489.8" width="1.5" height="3.6"/>
<text transform="translate(265.25,518) rotate(-90)" font-size="8.4" text-anchor="start" fill="#444" stroke="#444" stroke-width="0.25">Δ0977</text>
<rect x="271.44" y="472.4" width="6.3" height="17.4"/>
<rect x="273.99" y="470" width="1.2" height="2.9"/>
<text x="274.19" y="470.75" font-size="8" text-anchor="middle" fill="#444" stroke="#444" stroke-width="0.45">*</text>
<rect x="267.67" y="489.8" width="1.5" height="3.6"/>
<text transform="translate(277.39,518) rotate(-90)" font-size="8.4" text-anchor="start" fill="#444" stroke="#444" stroke-width="0.25">Δ1254</text>
<rect x="283.78" y="465" width="6.3" height="24.8"/>
<rect x="286.33" y="463.7" width="1.2" height="1.8"/>
<text x="286.53" y="464.45" font-size="8" text-anchor="middle" fill="#444" stroke="#444" stroke-width="0.45">*</text>
<rect x="280.01" y="489.8" width="1.5" height="3.6"/>
<text transform="translate(290.73,518) rotate(-90)" font-size="8.4" text-anchor="start" fill="#444" stroke="#444" stroke-width="0.25">Δ1421</text>
<rect x="296.12" y="397.3" width="6.3" height="92.5"/>
<rect x="298.67" y="387.4" width="1.2" height="10.4"/>
<text x="298.87" y="387.45" font-size="8" text-anchor="middle" fill="#444" stroke="#444" stroke-width="0.45">*</text>
<rect x="292.35" y="489.8" width="1.5" height="3.6"/>
<text transform="translate(302.07,518) rotate(-90)" font-size="8.4" text-anchor="start" fill="#444" stroke="#444" stroke-width="0.25">Δ1636</text>
<rect x="308.45" y="408.3" width="6.3" height="81.5"/>
<rect x="311" y="405.8" width="1.2" height="3"/>
<text x="311.2" y="406.05" font-size="8" text-anchor="middle" fill="#444" stroke="#444" stroke-width="0.45">*</text>
<rect x="304.68" y="489.8" width="1.5" height="3.6"/>
<text transform="translate(314.8,518) rotate(-90)" font-size="8.4" text-anchor="start" fill="#444" stroke="#444" stroke-width="0.25">Δ1785</text>
<rect x="320.79" y="473.7" width="6.3" height="16.1"/>
<rect x="323.34" y="472.4" width="1.2" height="1.8"/>
<text x="323.54" y="471.95" font-size="8" text-anchor="middle" fill="#444" stroke="#444" stroke-width="0.45">*</text>
<rect x="317.02" y="489.8" width="1.5" height="3.6"/>
<text transform="translate(327.14,518) rotate(-90)" font-size="8.4" text-anchor="start" fill="#444" stroke="#444" stroke-width="0.25">Δ2140</text>
<rect x="333.13" y="473.7" width="6.3" height="16.1"/>
<rect x="335.68" y="472.4" width="1.2" height="1.8"/>
<text x="335.88" y="472.95" font-size="8" text-anchor="middle" fill="#444" stroke="#444" stroke-width="0.45">*</text>
<rect x="329.36" y="489.8" width="1.5" height="3.6"/>
<text transform="translate(339.28,518) rotate(-90)" font-size="8.4" text-anchor="start" fill="#444" stroke="#444" stroke-width="0.25">Δ2141</text>
<rect x="345.46" y="473.7" width="6.3" height="16.1"/>
<rect x="348.01" y="469.4" width="1.2" height="4.8"/>
<text x="348.21" y="470.75" font-size="8" text-anchor="middle" fill="#444" stroke="#444" stroke-width="0.45">*</text>
<rect x="341.69" y="489.8" width="1.5" height="3.6"/>
<text transform="translate(352.01,518) rotate(-90)" font-size="8.4" text-anchor="start" fill="#444" stroke="#444" stroke-width="0.25">Δ2144</text>
<rect x="357.8" y="466.2" width="6.3" height="23.6"/>
<rect x="360.35" y="464.5" width="1.2" height="2.2"/>
<rect x="354.03" y="489.8" width="1.5" height="3.6"/>
<text transform="translate(364.15,518) rotate(-90)" font-size="8.4" text-anchor="start" fill="#444" stroke="#444" stroke-width="0.25">Δ2199</text>
<rect x="370.14" y="477.4" width="6.3" height="12.4"/>
<rect x="372.69" y="475.7" width="1.2" height="2.2"/>
<text x="372.89" y="476.65" font-size="8" text-anchor="middle" fill="#444" stroke="#444" stroke-width="0.45">*</text>
<rect x="366.37" y="489.8" width="1.5" height="3.6"/>
<text transform="translate(376.09,518) rotate(-90)" font-size="8.4" text-anchor="start" fill="#444" stroke="#444" stroke-width="0.25">Δ2234</text>
<rect x="382.48" y="478.6" width="6.3" height="11.2"/>
<rect x="385.02" y="476.9" width="1.2" height="2.2"/>
<text x="385.23" y="477.45" font-size="8" text-anchor="middle" fill="#444" stroke="#444" stroke-width="0.45">*</text>
<rect x="378.7" y="489.8" width="1.5" height="3.6"/>
<text transform="translate(388.43,518) rotate(-90)" font-size="8.4" text-anchor="start" fill="#444" stroke="#444" stroke-width="0.25">Δ2260</text>
<rect x="394.81" y="469.9" width="6.3" height="19.9"/>
<rect x="397.36" y="468.2" width="1.2" height="2.2"/>
<text x="397.56" y="466.95" font-size="8" text-anchor="middle" fill="#444" stroke="#444" stroke-width="0.45">*</text>
<rect x="391.04" y="489.8" width="1.5" height="3.6"/>
<text transform="translate(400.76,518) rotate(-90)" font-size="8.4" text-anchor="start" fill="#444" stroke="#444" stroke-width="0.25">Δ2267</text>
<rect x="407.15" y="486.1" width="6.3" height="3.7"/>
<rect x="409.7" y="485" width="1.2" height="1.6"/>
<text x="409.9" y="486.15" font-size="8" text-anchor="middle" fill="#444" stroke="#444" stroke-width="0.45">*</text>
<rect x="403.38" y="489.8" width="1.5" height="3.6"/>
<text transform="translate(413.1,518) rotate(-90)" font-size="8.4" text-anchor="start" fill="#444" stroke="#444" stroke-width="0.25">Δ2324</text>
<rect x="419.49" y="476.2" width="6.3" height="13.6"/>
<rect x="422.04" y="474.4" width="1.2" height="2.3"/>
<text x="422.24" y="474.15" font-size="8" text-anchor="middle" fill="#444" stroke="#444" stroke-width="0.45">*</text>
<rect x="415.72" y="489.8" width="1.5" height="3.6"/>
<text transform="translate(425.44,518) rotate(-90)" font-size="8.4" text-anchor="start" fill="#444" stroke="#444" stroke-width="0.25">Δ2365</text>
<rect x="431.82" y="445.6" width="6.3" height="44.2"/>
<rect x="434.37" y="444.6" width="1.2" height="1.5"/>
<text x="434.57" y="445.55" font-size="8" text-anchor="middle" fill="#444" stroke="#444" stroke-width="0.45">*</text>
<rect x="428.05" y="489.8" width="1.5" height="3.6"/>
<text transform="translate(437.77,518) rotate(-90)" font-size="8.4" text-anchor="start" fill="#444" stroke="#444" stroke-width="0.25">Δ2380</text>
<rect x="444.16" y="467.5" width="6.3" height="22.3"/>
<rect x="446.71" y="465.7" width="1.2" height="2.3"/>
<text x="446.91" y="465.75" font-size="8" text-anchor="middle" fill="#444" stroke="#444" stroke-width="0.45">*</text>
<rect x="440.39" y="489.8" width="1.5" height="3.6"/>
<text transform="translate(450.11,518) rotate(-90)" font-size="8.4" text-anchor="start" fill="#444" stroke="#444" stroke-width="0.25">Δ2594</text>
<rect x="456.5" y="473.7" width="6.3" height="16.1"/>
<rect x="459.05" y="471.2" width="1.2" height="3"/>
<text x="459.25" y="471.75" font-size="8" text-anchor="middle" fill="#444" stroke="#444" stroke-width="0.45">*</text>
<rect x="452.73" y="489.8" width="1.5" height="3.6"/>
<text transform="translate(462.45,518) rotate(-90)" font-size="8.4" text-anchor="start" fill="#444" stroke="#444" stroke-width="0.25">Δ2657</text>
<rect x="468.83" y="476.2" width="6.3" height="13.6"/>
<rect x="471.38" y="474.4" width="1.2" height="2.3"/>
<text x="471.58" y="473.15" font-size="8" text-anchor="middle" fill="#444" stroke="#444" stroke-width="0.45">*</text>
<rect x="465.06" y="489.8" width="1.5" height="3.6"/>
<text transform="translate(474.78,518) rotate(-90)" font-size="8.4" text-anchor="start" fill="#444" stroke="#444" stroke-width="0.25">Δ2694</text>
<rect x="481.17" y="469.9" width="6.3" height="19.9"/>
<rect x="483.72" y="468.2" width="1.2" height="2.2"/>
<text x="483.92" y="467.95" font-size="8" text-anchor="middle" fill="#444" stroke="#444" stroke-width="0.45">*</text>
<rect x="477.4" y="489.8" width="1.5" height="3.6"/>
<text transform="translate(487.12,518) rotate(-90)" font-size="8.4" text-anchor="start" fill="#444" stroke="#444" stroke-width="0.25">Δ2701</text>
<rect x="493.51" y="443.8" width="6.3" height="46"/>
<rect x="496.06" y="442.6" width="1.2" height="1.7"/>
<text x="496.26" y="442.65" font-size="8" text-anchor="middle" fill="#444" stroke="#444" stroke-width="0.45">*</text>
<rect x="489.74" y="489.8" width="1.5" height="3.6"/>
<text transform="translate(499.46,518) rotate(-90)" font-size="8.4" text-anchor="start" fill="#444" stroke="#444" stroke-width="0.25">Δ2710</text>
<rect x="505.85" y="469.9" width="6.3" height="19.9"/>
<rect x="508.39" y="468.2" width="1.2" height="2.2"/>
<text x="508.6" y="469.95" font-size="8" text-anchor="middle" fill="#444" stroke="#444" stroke-width="0.45">*</text>
<rect x="502.07" y="489.8" width="1.5" height="3.6"/>
<text transform="translate(511.8,518) rotate(-90)" font-size="8.4" text-anchor="start" fill="#444" stroke="#444" stroke-width="0.25">Δ2802</text>
<rect x="518.18" y="473.7" width="6.3" height="16.1"/>
<rect x="520.73" y="472" width="1.2" height="2.2"/>
<text x="520.93" y="471.75" font-size="8" text-anchor="middle" fill="#444" stroke="#444" stroke-width="0.45">*</text>
<rect x="514.41" y="489.8" width="1.5" height="3.6"/>
<text transform="translate(524.13,518) rotate(-90)" font-size="8.4" text-anchor="start" fill="#444" stroke="#444" stroke-width="0.25">Δ2890</text>
<rect x="530.52" y="472.4" width="6.3" height="17.4"/>
<rect x="533.07" y="470.7" width="1.2" height="2.2"/>
<text x="533.27" y="469.95" font-size="8" text-anchor="middle" fill="#444" stroke="#444" stroke-width="0.45">*</text>
<rect x="526.75" y="489.8" width="1.5" height="3.6"/>
<text transform="translate(534.67,518) rotate(-90)" font-size="8.4" text-anchor="start" fill="#444" stroke="#444" stroke-width="0.25">Δ3019</text>
<rect x="542.86" y="471.2" width="6.3" height="18.6"/>
<rect x="545.41" y="469.4" width="1.2" height="2.3"/>
<text x="545.61" y="469.95" font-size="8" text-anchor="middle" fill="#444" stroke="#444" stroke-width="0.45">*</text>
<rect x="539.09" y="489.8" width="1.5" height="3.6"/>
<text transform="translate(551.11,518) rotate(-90)" font-size="8.4" text-anchor="start" fill="#444" stroke="#444" stroke-width="0.25">Δ3567</text>
<rect x="555.19" y="467.5" width="6.3" height="22.3"/>
<rect x="557.74" y="466.5" width="1.2" height="1.5"/>
<rect x="551.42" y="489.8" width="1.5" height="3.6"/>
<text transform="translate(561.14,518) rotate(-90)" font-size="8.4" text-anchor="start" fill="#444" stroke="#444" stroke-width="0.25">Δ3625</text>
<rect x="567.53" y="478.6" width="6.3" height="11.2"/>
<rect x="570.08" y="477.5" width="1.2" height="1.6"/>
<text x="570.28" y="477.95" font-size="8" text-anchor="middle" fill="#444" stroke="#444" stroke-width="0.45">*</text>
<rect x="563.76" y="489.8" width="1.5" height="3.6"/>
<text transform="translate(573.48,518) rotate(-90)" font-size="8.4" text-anchor="start" fill="#444" stroke="#444" stroke-width="0.25">Δ3670</text>
<rect x="579.87" y="469.9" width="6.3" height="19.9"/>
<rect x="582.42" y="468.2" width="1.2" height="2.2"/>
<text x="582.62" y="467.45" font-size="8" text-anchor="middle" fill="#444" stroke="#444" stroke-width="0.45">*</text>
<rect x="576.1" y="489.8" width="1.5" height="3.6"/>
<text transform="translate(585.82,518) rotate(-90)" font-size="8.4" text-anchor="start" fill="#444" stroke="#444" stroke-width="0.25">Δ3730</text>
<rect x="592.2" y="473.7" width="6.3" height="16.1"/>
<rect x="594.75" y="469.4" width="1.2" height="4.8"/>
<text x="594.95" y="469.25" font-size="8" text-anchor="middle" fill="#444" stroke="#444" stroke-width="0.45">*</text>
<rect x="588.43" y="489.8" width="1.5" height="3.6"/>
<text transform="translate(598.15,518) rotate(-90)" font-size="8.4" text-anchor="start" fill="#444" stroke="#444" stroke-width="0.25">Δ3754</text>
<rect x="604.54" y="462.5" width="6.3" height="27.3"/>
<rect x="607.09" y="460.5" width="1.2" height="2.5"/>
<text x="607.29" y="460.75" font-size="8" text-anchor="middle" fill="#444" stroke="#444" stroke-width="0.45">*</text>
<rect x="600.77" y="489.8" width="1.5" height="3.6"/>
<text transform="translate(610.49,518) rotate(-90)" font-size="8.4" text-anchor="start" fill="#444" stroke="#444" stroke-width="0.25">Δ3944</text>
<rect x="616.88" y="468.7" width="6.3" height="21.1"/>
<rect x="619.43" y="467" width="1.2" height="2.2"/>
<text x="619.63" y="467.45" font-size="8" text-anchor="middle" fill="#444" stroke="#444" stroke-width="0.45">*</text>
<rect x="613.11" y="489.8" width="1.5" height="3.6"/>
<text transform="translate(622.83,518) rotate(-90)" font-size="8.4" text-anchor="start" fill="#444" stroke="#444" stroke-width="0.25">Δ4037</text>
<rect x="629.22" y="465" width="6.3" height="24.8"/>
<rect x="631.76" y="463.2" width="1.2" height="2.3"/>
<rect x="625.45" y="489.8" width="1.5" height="3.6"/>
<text transform="translate(635.16,518) rotate(-90)" font-size="8.4" text-anchor="start" fill="#444" stroke="#444" stroke-width="0.25">Δ4039</text>
<rect x="641.55" y="472.4" width="6.3" height="17.4"/>
<rect x="644.1" y="470.7" width="1.2" height="2.2"/>
<text x="644.3" y="469.95" font-size="8" text-anchor="middle" fill="#444" stroke="#444" stroke-width="0.45">*</text>
<rect x="637.78" y="489.8" width="1.5" height="3.6"/>
<text transform="translate(647.5,518) rotate(-90)" font-size="8.4" text-anchor="start" fill="#777" stroke="#777" stroke-width="0.1">Δ4106</text>
<rect x="653.89" y="476.2" width="6.3" height="13.6"/>
<rect x="656.44" y="474.4" width="1.2" height="2.3"/>
<text x="656.64" y="474.15" font-size="8" text-anchor="middle" fill="#444" stroke="#444" stroke-width="0.45">*</text>
<rect x="650.12" y="489.8" width="1.5" height="3.6"/>
<text transform="translate(659.84,518) rotate(-90)" font-size="8.4" text-anchor="start" fill="#777" stroke="#777" stroke-width="0.1">Δ4208</text>
<rect x="666.23" y="473.7" width="6.3" height="16.1"/>
<rect x="668.78" y="472" width="1.2" height="2.2"/>
<text x="668.98" y="471.75" font-size="8" text-anchor="middle" fill="#444" stroke="#444" stroke-width="0.45">*</text>
<rect x="662.46" y="489.8" width="1.5" height="3.6"/>
<text transform="translate(672.18,518) rotate(-90)" font-size="8.4" text-anchor="start" fill="#777" stroke="#777" stroke-width="0.1">Δ4225</text>
<rect x="678.56" y="474.9" width="6.3" height="14.9"/>
<rect x="681.11" y="473.2" width="1.2" height="2.2"/>
<text x="681.31" y="471.95" font-size="8" text-anchor="middle" fill="#444" stroke="#444" stroke-width="0.45">*</text>
<rect x="674.79" y="489.8" width="1.5" height="3.6"/>
<text transform="translate(684.51,518) rotate(-90)" font-size="8.4" text-anchor="start" fill="#777" stroke="#777" stroke-width="0.1">Δ4296</text>
<rect x="690.9" y="469.9" width="6.3" height="19.9"/>
<rect x="693.45" y="468.2" width="1.2" height="2.2"/>
<text x="693.65" y="468.25" font-size="8" text-anchor="middle" fill="#444" stroke="#444" stroke-width="0.45">*</text>
<rect x="687.13" y="489.8" width="1.5" height="3.6"/>
<text transform="translate(696.85,518) rotate(-90)" font-size="8.4" text-anchor="start" fill="#777" stroke="#777" stroke-width="0.1">Δ4361</text>
<rect x="703.24" y="464.5" width="6.3" height="25.3"/>
<rect x="705.79" y="463" width="1.2" height="2"/>
<rect x="699.47" y="489.8" width="1.5" height="3.6"/>
<text transform="translate(709.19,518) rotate(-90)" font-size="8.4" text-anchor="start" fill="#777" stroke="#777" stroke-width="0.1">Δ4477</text>
<rect x="711.8" y="489.8" width="1.5" height="3.6"/>
<text x="119.5" y="33.7" font-size="11.5" fill="#1c1c1c" stroke="#1c1c1c" stroke-width="0.2">Biofilm</text>
<text x="118.9" y="215.6" font-size="11.7" fill="#1c1c1c" stroke="#1c1c1c" stroke-width="0.2">Growth</text>
<text x="118.9" y="400.8" font-size="11.7" fill="#1c1c1c" stroke="#1c1c1c" stroke-width="0.2">Biofilm/Growth</text>
<text x="23.2" y="34.2" font-size="16" font-weight="bold" fill="#111">A</text>
<text x="22.8" y="207.3" font-size="15.5" font-weight="bold" fill="#111">B</text>
<text x="22.5" y="383.6" font-size="16.5" font-weight="bold" fill="#111">C</text>
<text transform="translate(30.7,112.2) rotate(-90)" font-size="11.5" fill="#1c1c1c" stroke="#1c1c1c" stroke-width="0.2">ABS OD<tspan font-size="6.7" dy="1.2">590</tspan></text>
<text transform="translate(30.7,280.3) rotate(-90)" font-size="11.5" fill="#1c1c1c" stroke="#1c1c1c" stroke-width="0.2">ABS OD<tspan font-size="6.7" dy="1.2">600</tspan></text>
<text transform="translate(33.9,473.3) rotate(-90)" font-size="11.6" fill="#1c1c1c" stroke="#1c1c1c" stroke-width="0.2">Biofilm/Growth</text>
</svg>
</body></html>
